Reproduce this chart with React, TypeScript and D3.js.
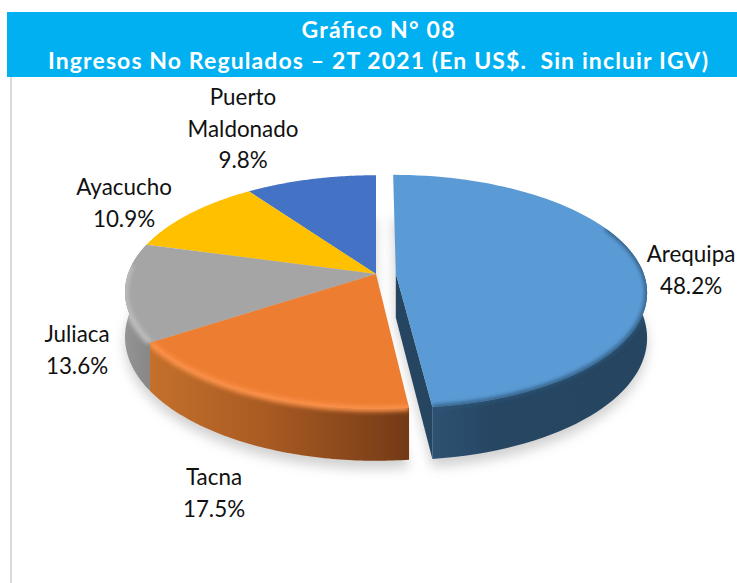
import React from "react";
import * as d3 from "d3";

const categories = ["Arequipa", "Tacna", "Juliaca", "Ayacucho", "Puerto Maldonado"];
const shares = [48.2, 17.5, 13.6, 10.9, 9.8];
const topColors = ["#5b9bd5", "#ed7d31", "#a5a5a5", "#ffc000", "#4472c4"];
const rimColors = ["#2a5478", "#fb9149", "#bdbdbd", "", ""];
const labelLines = [["Arequipa", "48.2%"], ["Tacna", "17.5%"], ["Juliaca", "13.6%"], ["Ayacucho", "10.9%"], ["Puerto", "Maldonado", "9.8%"]];
const labelPos: [number, number][] = [[691, 262], [214, 485], [77, 342], [124, 195], [243, 105]];
const titleLines = ["Gráfico N° 08", "Ingresos No Regulados – 2T 2021 (En US$.  Sin incluir IGV)"];
const titleWidths = [153, 660];

const W = 737, H = 583;
const cx = 376, cy = 274, Rx = 248, Ry = 114, k = 0.154, depth = 44;
const font = "Lato, 'Open Sans', sans-serif";

type P = [number, number];
function project(u: number, v: number, drop: number): P {
  const d = 1 - k * v;
  return [cx + (Rx * u) / d, cy + (Ry * v) / d + drop / d];
}
const line = d3.line<P>().x(p => p[0]).y(p => p[1]);

function arcPts(a0: number, a1: number, ex: number, mid: number, drop: number): P[] {
  const ou = ex * Math.sin(mid), ov = -ex * Math.cos(mid);
  return d3.range(0, 81).map(i => {
    const a = a0 + ((a1 - a0) * i) / 80;
    return project(Math.sin(a) + ou, -Math.cos(a) + ov, drop);
  });
}

export default function App() {
  const arcs = d3.pie<number>().sort(null)(shares);
  const slices = arcs.map((s, i) => {
    const mid = (s.startAngle + s.endAngle) / 2;
    const ex = i === 0 ? 0.08 : 0;
    const ou = ex * Math.sin(mid), ov = -ex * Math.cos(mid);
    const apex = project(ou, ov, 0);
    const apexLow = project(ou, ov, depth);
    const rim = arcPts(s.startAngle, s.endAngle, ex, mid, 0);
    const lower = arcPts(s.startAngle, s.endAngle, ex, mid, depth);
    const shadowRim = arcPts(s.startAngle, s.endAngle, ex, mid, depth + 7);
    const shadowApex = project(ou, ov, depth + 7);
    // only the front-facing part of the wall is visible
    const firstFront = i === 0 ? 30 : 0;
    const rimFront = rim.slice(firstFront);
    const lowerFront = lower.slice(firstFront);
    return {
      i, mid, ex, apex, apexLow, rim, lower,
      top: line([apex, ...rim])! + "Z",
      side: line([...rimFront, ...lowerFront.slice().reverse()])! + "Z",
      shadow: line([shadowApex, ...shadowRim])! + "Z",
    };
  });
  const blue = slices[0];
  const orange = slices[1];
  const gray = slices[2];
  const wall = line([blue.apex, blue.rim[80], blue.lower[80], blue.apexLow])! + "Z";
  const front = (s: typeof blue, from: number, to: number) =>
    line(s.rim.filter((_, j) => j >= from && j <= to))!;

  return (
    <svg width={W} height={H} viewBox={`0 0 ${W} ${H}`} style={{ position: "absolute", left: 0, top: 0, background: "#fff" }}>
      <defs>
        <filter id="shadow" x="-20%" y="-20%" width="140%" height="140%"><feGaussianBlur stdDeviation="6" /></filter>
        <filter id="bevel" x="-20%" y="-20%" width="140%" height="140%"><feGaussianBlur stdDeviation="2.2" /></filter>
        <linearGradient id="sideBlue" gradientUnits="userSpaceOnUse" x1="430" x2="650" y1="0" y2="0">
          <stop offset="0" stopColor="#2e5273" /><stop offset="0.3" stopColor="#264662" /><stop offset="1" stopColor="#264560" />
        </linearGradient>
        <linearGradient id="sideOrange" gradientUnits="userSpaceOnUse" x1="152" x2="410" y1="0" y2="0">
          <stop offset="0" stopColor="#c4702c" /><stop offset="0.45" stopColor="#a85a22" /><stop offset="1" stopColor="#733a16" />
        </linearGradient>
        <linearGradient id="sideGray" gradientUnits="userSpaceOnUse" x1="125" x2="155" y1="0" y2="0">
          <stop offset="0" stopColor="#949494" /><stop offset="1" stopColor="#848484" />
        </linearGradient>
        {slices.map(s => (
          <clipPath key={s.i} id={`clip${s.i}`}>
            <path d={s.top} /><path d={s.side} />
          </clipPath>
        ))}
      </defs>

      <rect x={7} y={12} width={730} height={65} fill="#00b0f0" />
      <rect x={10} y={77} width={2} height={506} fill="#d9d9d9" />
      {titleLines.map((t, i) => (
        <text key={t} x={378} y={i === 0 ? 38 : 69} textAnchor="middle" fill="#fff" fontFamily={font} fontWeight={700}
          fontSize={23} textLength={titleWidths[i]} lengthAdjust="spacing" xmlSpace="preserve">{t}</text>
      ))}

      <g filter="url(#shadow)" opacity={0.4}>
        {slices.map(s => <path key={s.i} d={s.shadow} fill="#8c8c8c" />)}
      </g>

      <path d={gray.side} fill="url(#sideGray)" />
      <path d={orange.side} fill="url(#sideOrange)" />
      <path d={blue.side} fill="url(#sideBlue)" />
      <path d={wall} fill="#264560" />

      {[...slices].reverse().map(s => (
        <path key={s.i} d={s.top} fill={topColors[s.i]} />
      ))}

      <g clipPath="url(#clip0)">
        <path d={front(blue, 30, 80)} fill="none" stroke={rimColors[0]} strokeWidth={4} filter="url(#bevel)" />
      </g>
      <g clipPath="url(#clip1)">
        <path d={front(orange, 0, 80)} fill="none" stroke={rimColors[1]} strokeWidth={6} filter="url(#bevel)" />
      </g>
      <g clipPath="url(#clip2)">
        <path d={front(gray, 0, 62)} fill="none" stroke={rimColors[2]} strokeWidth={6} filter="url(#bevel)" />
      </g>

      {labelLines.map((lines, i) => (
        <text key={categories[i]} fontFamily={font} fontSize={22.4} fill="#111" textAnchor="middle">
          {lines.map((l, j) => (
            <tspan key={l} x={labelPos[i][0]} y={labelPos[i][1] + j * 31.5}>{l}</tspan>
          ))}
        </text>
      ))}
    </svg>
  );
}
